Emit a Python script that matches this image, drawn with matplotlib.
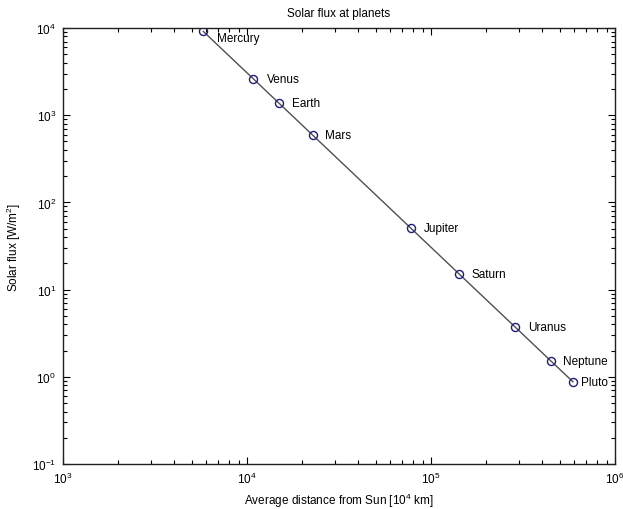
import matplotlib
matplotlib.use("Agg")
import matplotlib.pyplot as plt
from matplotlib.ticker import LogLocator, LogFormatterSciNotation, NullFormatter

planets = ["Mercury", "Venus", "Earth", "Mars", "Jupiter", "Saturn", "Uranus", "Neptune", "Pluto"]
distance = [5790, 10820, 14960, 22790, 77830, 142700, 287100, 449700, 590600]  # 10^4 km
flux = [9127, 2615, 1367, 589, 50.5, 15.0, 3.71, 1.51, 0.877]  # W/m^2
label_dx = [9.5, 10, 9, 9, 9, 9, 9, 8.5, 6]
label_dy = [-5, 0, 0, 0, 0, 0, 0, 0, 0]

plt.rcParams['font.family'] = ['Liberation Sans', 'DejaVu Sans']
plt.rcParams['mathtext.fontset'] = 'custom'
plt.rcParams['mathtext.rm'] = 'Liberation Sans'

fig = plt.figure(figsize=(6.23, 5.10), dpi=100)
ax = fig.add_axes([63/623, 1-465/510, (615-63)/623, (465-29)/510])

ax.loglog(distance, flux, '-', color='#505050', lw=1)
ax.loglog(distance, flux, 'o', mfc='none', mec='#1f1f78', ms=5.8, mew=1)

for name, x, y, dx, dy in zip(planets, distance, flux, label_dx, label_dy):
    ax.annotate(name, (x, y), xytext=(dx, dy), textcoords='offset points',
                ha='left', va='center', fontsize=8.5, color='black')

ax.set_xlim(1e3, 1e6)
ax.set_ylim(1e-1, 1e4)

for axis in (ax.xaxis, ax.yaxis):
    axis.set_major_locator(LogLocator(base=10, numticks=10))
    axis.set_minor_locator(LogLocator(base=10, subs=range(2, 10), numticks=10))
    axis.set_major_formatter(LogFormatterSciNotation())
    axis.set_minor_formatter(NullFormatter())

ax.tick_params(which='both', direction='in', top=True, right=True, labelsize=8.5, width=0.8)
ax.tick_params(which='major', length=5, pad=5)
ax.tick_params(which='minor', length=3)
for s in ax.spines.values():
    s.set_linewidth(1.0)
    s.set_color('#202020')

ax.set_title('Solar flux at planets', fontsize=8.5, pad=9)
ax.set_xlabel('Average distance from Sun [10$^{4}$ km]', fontsize=8.5, labelpad=3)
ax.set_ylabel('Solar flux [W/m$^{2}$]', fontsize=8.5, labelpad=6)

fig.savefig('out.png', dpi=100)
